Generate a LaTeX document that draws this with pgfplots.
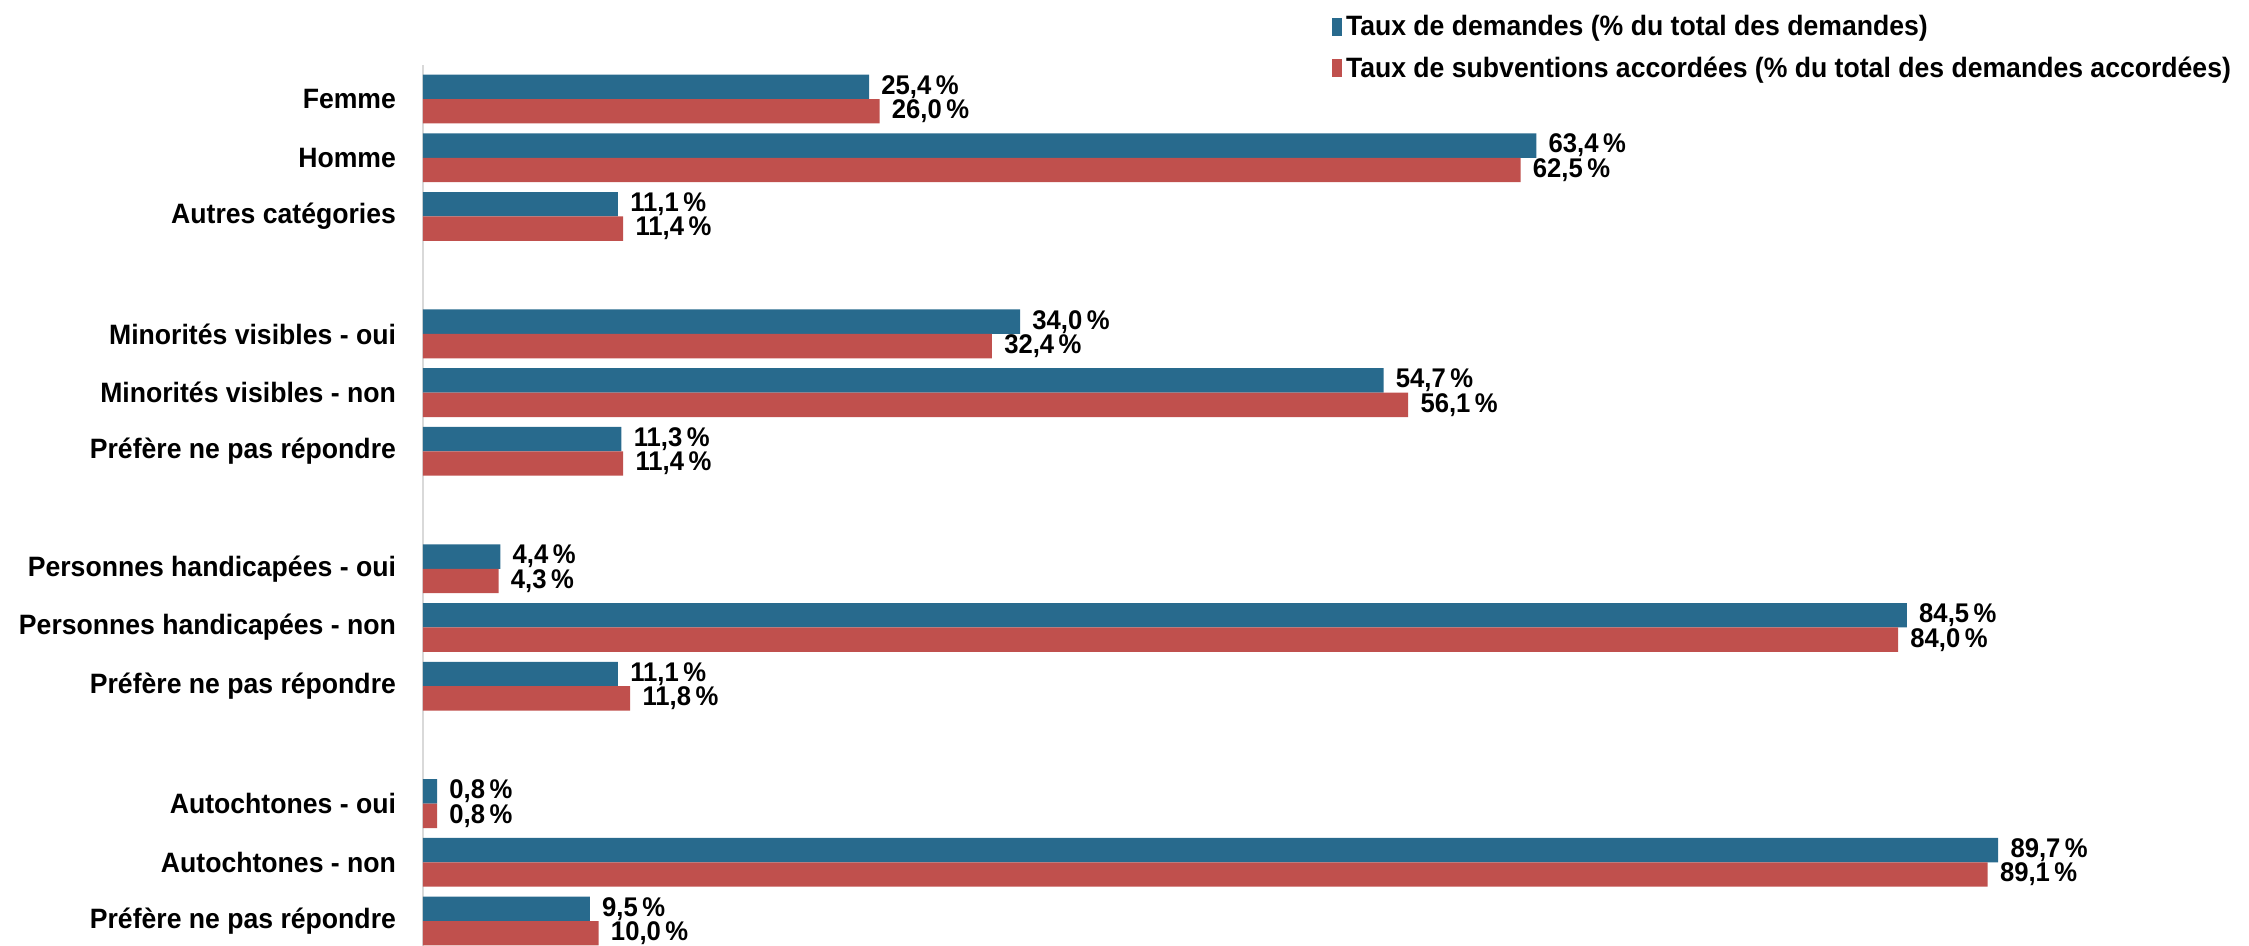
\documentclass[border=0pt]{standalone}
\usepackage{fontspec}
\setmainfont{Liberation Sans}[FakeStretch=0.95]
\usepackage{pgfplots}
\pgfplotsset{compat=1.18}
\definecolor{cblue}{HTML}{286A8D}
\definecolor{cred}{HTML}{C0504D}
\begin{document}
\begin{tikzpicture}
\begin{axis}[
    xbar,
    width=878pt, height=440.5pt, scale only axis,
    xmin=0, xmax=100,
    ymin=-14.425, ymax=0.58,
    bar width=12.2pt,
    axis x line=none,
    axis y line=left,
    axis line style={-, draw=black!15, line width=1pt},
    major tick length=0pt,
    ytick={-14,-13,-12,-10,-9,-8,-6,-5,-4,-2,-1,0},
    yticklabels={Préfère ne pas répondre,Autochtones - non,Autochtones - oui,
      Préfère ne pas répondre,Personnes handicapées - non,Personnes handicapées - oui,
      Préfère ne pas répondre,Minorités visibles - non,Minorités visibles - oui,
      Autres catégories,Homme,Femme},
    yticklabel style={font=\bfseries\fontsize{14}{16}\selectfont, xshift=-10pt},
    /pgf/number format/assume math mode=true,
    nodes near coords={\pgfmathprintnumber[fixed,fixed zerofill,precision=1,use comma]{\pgfplotspointmeta}\,\%},
    nodes near coords style={font=\bfseries\fontsize{13.5}{14}\selectfont, anchor=west, inner sep=0pt, xshift=6pt, black},
    legend style={at={(0.514,1.066)}, anchor=north west, draw=none, fill=none,
      font=\bfseries\fontsize{14}{16}\selectfont, row sep=5pt, legend cell align=left},
    legend image code/.code={\fill[#1] (0pt,-4.5pt) rectangle (5pt,4.5pt);},
    clip=false,
]
\addplot[fill=cblue, draw=none, bar shift=6.1pt] coordinates {
 (25.4,0) (63.4,-1) (11.1,-2)
 (34.0,-4) (54.7,-5) (11.3,-6)
 (4.4,-8) (84.5,-9) (11.1,-10)
 (0.8,-12) (89.7,-13) (9.5,-14)};
\addplot[fill=cred, draw=none, bar shift=-6.1pt] coordinates {
 (26.0,0) (62.5,-1) (11.4,-2)
 (32.4,-4) (56.1,-5) (11.4,-6)
 (4.3,-8) (84.0,-9) (11.8,-10)
 (0.8,-12) (89.1,-13) (10.0,-14)};
\legend{Taux de demandes (\% du total des demandes),Taux de subventions accordées (\% du total des demandes accordées)}
\end{axis}
\pgfresetboundingbox
\path[use as bounding box] (-211.5pt,0pt) rectangle (913pt,473pt);
\end{tikzpicture}
\end{document}
